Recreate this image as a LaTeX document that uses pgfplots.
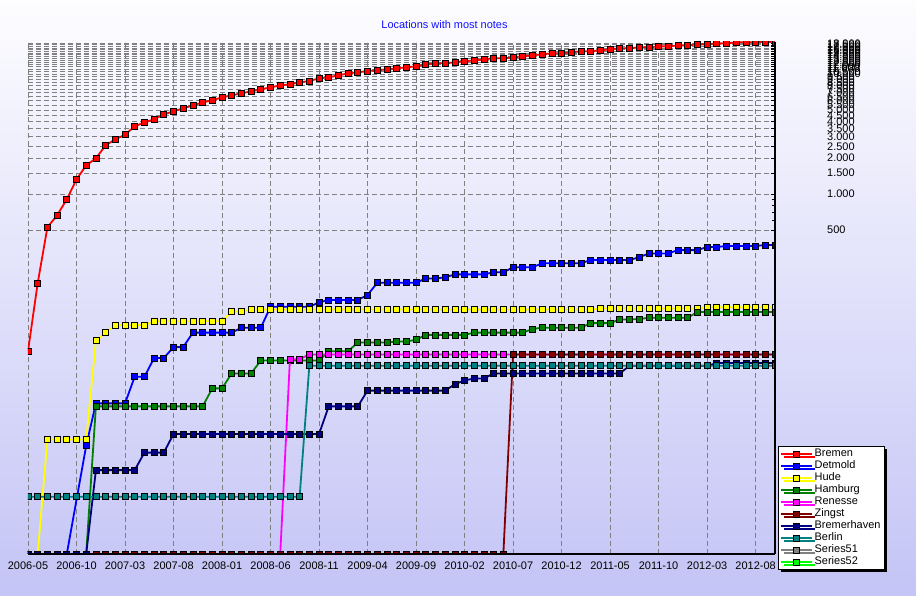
\documentclass[border=0pt]{standalone}
\usepackage{fontspec}
\setmainfont{Liberation Sans}
\usepackage{pgfplots}
\pgfplotsset{compat=1.18}
\usepackage{pgfplotstable}
\usetikzlibrary{shadows}
\definecolor{cBremen}{RGB}{255,0,0}
\definecolor{cDetmold}{RGB}{0,0,255}
\definecolor{cHude}{RGB}{255,255,0}
\definecolor{cHamburg}{RGB}{0,128,0}
\definecolor{cRenesse}{RGB}{255,0,255}
\definecolor{cZingst}{RGB}{128,0,0}
\definecolor{cBremerhaven}{RGB}{0,0,128}
\definecolor{cBerlin}{RGB}{0,128,128}
\definecolor{cS51}{RGB}{128,128,128}
\definecolor{cS52}{RGB}{0,255,0}
\definecolor{bgtop}{RGB}{253,253,255}
\definecolor{bgbot}{RGB}{196,196,246}
\definecolor{titleblue}{RGB}{16,16,255}

\pgfplotstableread{
x Bremen Detmold Hude Hamburg Renesse Zingst Bremerhaven Berlin
0 49 1 1 1 1 1 1 3
1 181 1 1 1 1 1 1 3
2 528 1 9 1 1 1 1 3
3 665 1 9 1 1 1 1 3
4 903 1 9 1 1 1 1 3
5 1326 nan 9 1 1 1 1 3
6 1734 8 9 1 1 1 1 3
7 1984 18 60 17 1 1 5 3
8 2546 18 70 17 1 1 5 3
9 2856 18 81 17 1 1 5 3
10 3120 18 81 17 1 1 5 3
11 3664 30 81 17 1 1 5 3
12 3959 30 81 17 1 1 7 3
13 4194 43 87 17 1 1 7 3
14 4614 43 87 17 1 1 7 3
15 4887 53 87 17 1 1 10 3
16 5176 53 87 17 1 1 10 3
17 5483 70 87 17 1 1 10 3
18 5807 70 87 17 1 1 10 3
19 6039 70 87 24 1 1 10 3
20 6397 70 87 24 1 1 10 3
21 6645 70 105 32 1 1 10 3
22 6904 77 105 32 1 1 10 3
23 7178 77 109 32 1 1 10 3
24 7455 77 109 41 1 1 10 3
25 7745 115 109 41 1 1 10 3
26 8054 115 109 41 1 1 10 3
27 8204 115 109 41 42 1 10 3
28 8531 115 109 41 42 1 10 3
29 8750 115 109 41 46 1 10 37
30 9204 125 109 41 46 1 10 37
31 9387 131 109 49 46 1 17 37
32 9750 131 109 49 46 1 17 37
33 10140 131 109 49 46 1 17 37
34 10330 131 109 58 46 1 17 37
35 10590 144 109 58 46 1 23 37
36 10740 182 109 58 46 1 23 37
37 10940 182 109 58 46 1 23 37
38 11160 182 109 59 46 1 23 37
39 11380 182 109 59 46 1 23 37
40 11590 182 109 61 46 1 23 37
41 12040 198 109 67 46 1 23 37
42 12280 198 109 67 46 1 23 37
43 12280 202 109 67 46 1 23 37
44 12520 214 109 67 46 1 26 37
45 12760 214 109 67 46 1 28 37
46 13010 214 109 70 46 1 29 37
47 13260 214 109 70 46 1 29 37
48 13520 223 109 70 46 1 32 37
49 13520 223 109 70 46 1 32 37
50 13780 245 109 70 46 46 32 37
51 14050 245 109 70 46 46 32 37
52 14320 245 109 75 46 46 32 37
53 14600 265 109 77 46 46 32 37
54 14880 265 109 77 46 46 32 37
55 14880 265 109 77 46 46 32 37
56 15170 265 109 77 46 46 32 37
57 15460 265 109 77 46 46 32 37
58 15460 282 109 84 46 46 32 37
59 15760 282 111 84 46 46 32 37
60 16070 282 111 84 46 46 32 37
61 16380 282 111 90 46 46 32 37
62 16380 282 111 90 46 46 37 37
63 16690 297 111 91 46 46 37 37
64 16690 320 111 93 46 46 37 37
65 17010 320 111 93 46 46 37 37
66 17010 320 111 93 46 46 37 37
67 17340 341 111 93 46 46 37 37
68 17340 341 111 93 46 46 37 37
69 17680 341 111 104 46 46 37 37
70 17680 362 114 104 46 46 37 37
71 18020 362 114 104 46 46 39 37
72 18020 369 114 104 46 46 39 37
73 18370 369 114 104 46 46 39 37
74 18400 369 114 104 46 46 39 37
75 18450 369 114 104 46 46 39 37
76 18500 376 114 104 46 46 39 37
77 18500 376 114 104 46 46 39 37
}\datatable

\pgfplotsset{
  series/.style={draw=#1, line width=1.8bp, mark=square*, mark size=3bp,
    mark options={draw=black, fill=#1, line width=0.7bp, solid}},
}

\begin{document}
\begin{tikzpicture}
\shade[top color=bgtop, bottom color=bgbot] (0,0) rectangle (916bp,596bp);
\begin{axis}[
  at={(28bp,42bp)}, anchor=south west,
  scale only axis, width=747bp, height=512bp,
  ymode=log, log basis y=10,
  xmin=0, xmax=77, ymin=1, ymax=18500,
  axis x line*=bottom, axis y line*=right,
  axis line style={black, line width=2bp},
  clip marker paths=true,
  font=\fontsize{11}{13}\selectfont,
  xtick={0,5,10,15,20,25,30,35,40,45,50,55,60,65,70,75},
  xticklabels={2006-05,2006-10,2007-03,2007-08,2008-01,2008-06,2008-11,2009-04,2009-09,2010-02,2010-07,2010-12,2011-05,2011-10,2012-03,2012-08},
  xtick style={draw=none},
  xticklabel style={yshift=-4bp},
  ytick={500,1000,1500,2000,2500,3000,3500,4000,4500,5000,5500,6000,6500,7000,7500,8000,8500,9000,9500,10000,10500,11000,11500,12000,12500,13000,13500,14000,14500,15000,15500,16000,16500,17000,17500,18000},
  yticklabels={500,1.000,1.500,2.000,2.500,3.000,3.500,4.000,4.500,5.000,5.500,6.000,6.500,7.000,7.500,8.000,8.500,9.000,9.500,10.000,10.500,11.000,11.500,12.000,12.500,13.000,13.500,14.000,14.500,15.000,15.500,16.000,16.500,17.000,17.500,18.000},
  minor ytick={600,700,800,900},
  tick align=inside,
  major tick length=4bp, minor tick length=3bp,
  ytick style={black, line width=0.6bp},
  minor tick style={black, line width=0.6bp},
  yticklabel style={anchor=west, inner xsep=0pt, xshift=52bp},
  xmajorgrids, ymajorgrids,
  major grid style={gray, line width=0.8bp, dash pattern=on 5bp off 3bp},
  title={Locations with most notes},
  title style={at={(0.5576,1)}, anchor=base, yshift=8bp, text=titleblue, font=\fontsize{11}{13}\selectfont},
  legend image code/.code={\draw[mark repeat=2,mark phase=2] plot coordinates {(0bp,0bp) (15.5bp,0bp) (31bp,0bp)};},
  legend cell align=left,
  legend style={at={(1.004,0.2109)}, anchor=north west, draw=black, line width=0.8bp, fill=white,
    font=\fontsize{11}{12}\selectfont, inner xsep=2bp, inner ysep=1.5bp, row sep=0pt,
    nodes={inner xsep=1.5bp, inner ysep=0.5bp, text height=8.5bp, text depth=2.5bp},
    drop shadow={shadow xshift=3bp, shadow yshift=-3bp, fill=black, opacity=1}},
  after end axis/.code={
    \draw[black, line width=2bp] (rel axis cs:0,0) -- (rel axis cs:1,0);
    \draw[black, line width=2bp] (rel axis cs:1,0) -- (rel axis cs:1,1);
  },
]
\addplot[series=cBremen] table[x=x, y=Bremen] {\datatable};
\addlegendentry{Bremen}
\addplot[series=cDetmold] table[x=x, y=Detmold] {\datatable};
\addlegendentry{Detmold}
\addplot[series=cHude] table[x=x, y=Hude] {\datatable};
\addlegendentry{Hude}
\addplot[series=cHamburg] table[x=x, y=Hamburg] {\datatable};
\addlegendentry{Hamburg}
\addplot[series=cRenesse] table[x=x, y=Renesse] {\datatable};
\addlegendentry{Renesse}
\addplot[series=cZingst] table[x=x, y=Zingst] {\datatable};
\addlegendentry{Zingst}
\addplot[series=cBremerhaven] table[x=x, y=Bremerhaven] {\datatable};
\addlegendentry{Bremerhaven}
\addplot[series=cBerlin] table[x=x, y=Berlin] {\datatable};
\addlegendentry{Berlin}
\addlegendimage{series=cS51}
\addlegendentry{Series51}
\addlegendimage{series=cS52}
\addlegendentry{Series52}
\end{axis}
\end{tikzpicture}
\end{document}
